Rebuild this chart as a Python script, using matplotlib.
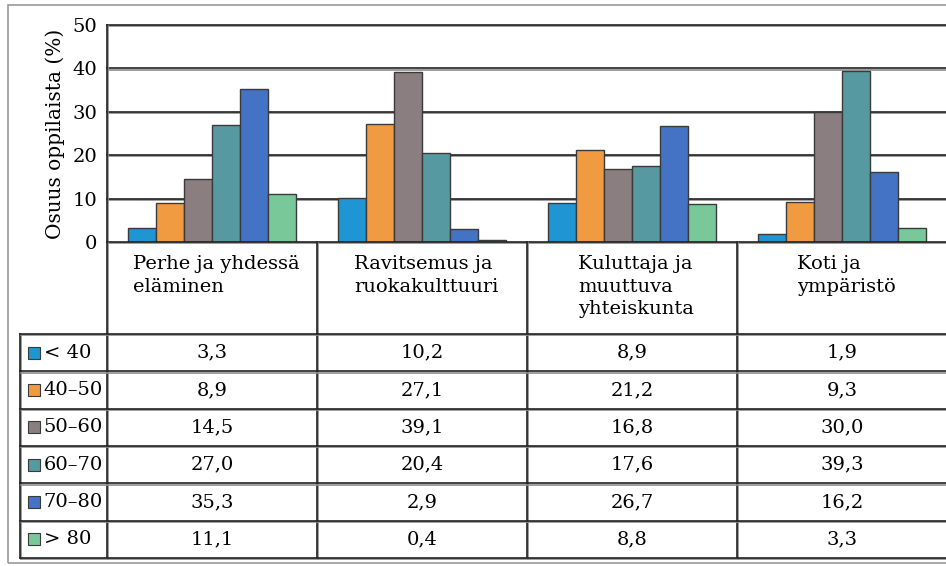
import matplotlib.pyplot as plt
import matplotlib.patheffects as pe
from matplotlib.patches import Rectangle

plt.rcParams['font.family'] = ['DejaVu Serif']

categories = ['Perhe ja yhdessä\neläminen', 'Ravitsemus ja\nruokakulttuuri',
              'Kuluttaja ja\nmuuttuva\nyhteiskunta', 'Koti ja\nympäristö']
groups = ['< 40', '40–50', '50–60', '60–70', '70–80', '> 80']
values = [
    [3.3, 10.2, 8.9, 1.9],
    [8.9, 27.1, 21.2, 9.3],
    [14.5, 39.1, 16.8, 30.0],
    [27.0, 20.4, 17.6, 39.3],
    [35.3, 2.9, 26.7, 16.2],
    [11.1, 0.4, 8.8, 3.3],
]
colors = ['#1f95d3', '#f09b42', '#8a7e81', '#5799a0', '#4472c4', '#79c899']
yticks = [0, 10, 20, 30, 40, 50]

W, H = 946, 566
fig = plt.figure(figsize=(W / 100, H / 100), dpi=100)

# double line look: dark line with a grey shadow
dbl = [pe.SimpleLineShadow(offset=(0.9, -0.9), shadow_color='#8c8c8c', alpha=1, rho=1), pe.Normal()]
lkw = dict(color='#222222', lw=1.2, path_effects=dbl, clip_on=False)

# outer frame
fig.patches.append(Rectangle((8 / W, 3 / H), 1.0, 558 / H, transform=fig.transFigure,
                             fill=False, ec='#9a9a9a', lw=1.2))

# ---- chart ----
ax = fig.add_axes([107 / W, (H - 242) / H, 840 / W, 217 / H])
n = len(groups)
bw = 0.8 / n
for i, (g, vals) in enumerate(zip(groups, values)):
    xs = [c + 0.5 - 0.4 + bw * (i + 0.5) for c in range(len(categories))]
    ax.bar(xs, vals, width=bw, color=colors[i], edgecolor='#3a3a3a', lw=1, zorder=3)
ax.set_xlim(0, len(categories))
ax.set_ylim(0, 50)
for t in yticks[1:]:
    ax.axhline(t, zorder=1, **lkw)
ax.axvline(0, **lkw)
ax.set_yticks(yticks)
ax.set_yticklabels([str(t) for t in yticks], fontsize=14)
ax.tick_params(axis='y', length=0, pad=7)
ax.set_xticks([])
for s in ax.spines.values():
    s.set_visible(False)
ax.set_ylabel('Osuus oppilaista (%)', fontsize=14.5, labelpad=5)

# ---- data table ----
hdr = 92 / 37.33
tax = fig.add_axes([20 / W, (H - 558) / H, 927 / W, 316 / H])
legw = 87 / 210
tax.set_xlim(-legw, len(categories))
tax.set_ylim(hdr + n, 0)
tax.axis('off')

# header row
tax.plot([0, len(categories)], [0, 0], **lkw)
for c in range(len(categories)):
    tax.plot([c, c], [0, hdr + n], **lkw)
    tax.text(c + 0.52, 0.36, categories[c], ha='center', va='top', multialignment='left',
             fontsize=14, linespacing=1.3)
tax.plot([-legw, -legw], [hdr, hdr + n], **lkw)
for r in range(n + 1):
    tax.plot([-legw, len(categories)], [hdr + r, hdr + r], **lkw)

for r, g in enumerate(groups):
    yc = hdr + r + 0.5
    tax.add_patch(Rectangle((-legw + 0.04, yc - 0.16), 12 / 210, 0.32,
                            fc=colors[r], ec='#3a3a3a', lw=0.8))
    tax.text(-legw + 0.112, yc, g, ha='left', va='center', fontsize=14)
    for c in range(len(categories)):
        tax.text(c + 0.5, yc, f'{values[r][c]:.1f}'.replace('.', ','),
                 ha='center', va='center', fontsize=14)

fig.savefig('out.png', dpi=100)
